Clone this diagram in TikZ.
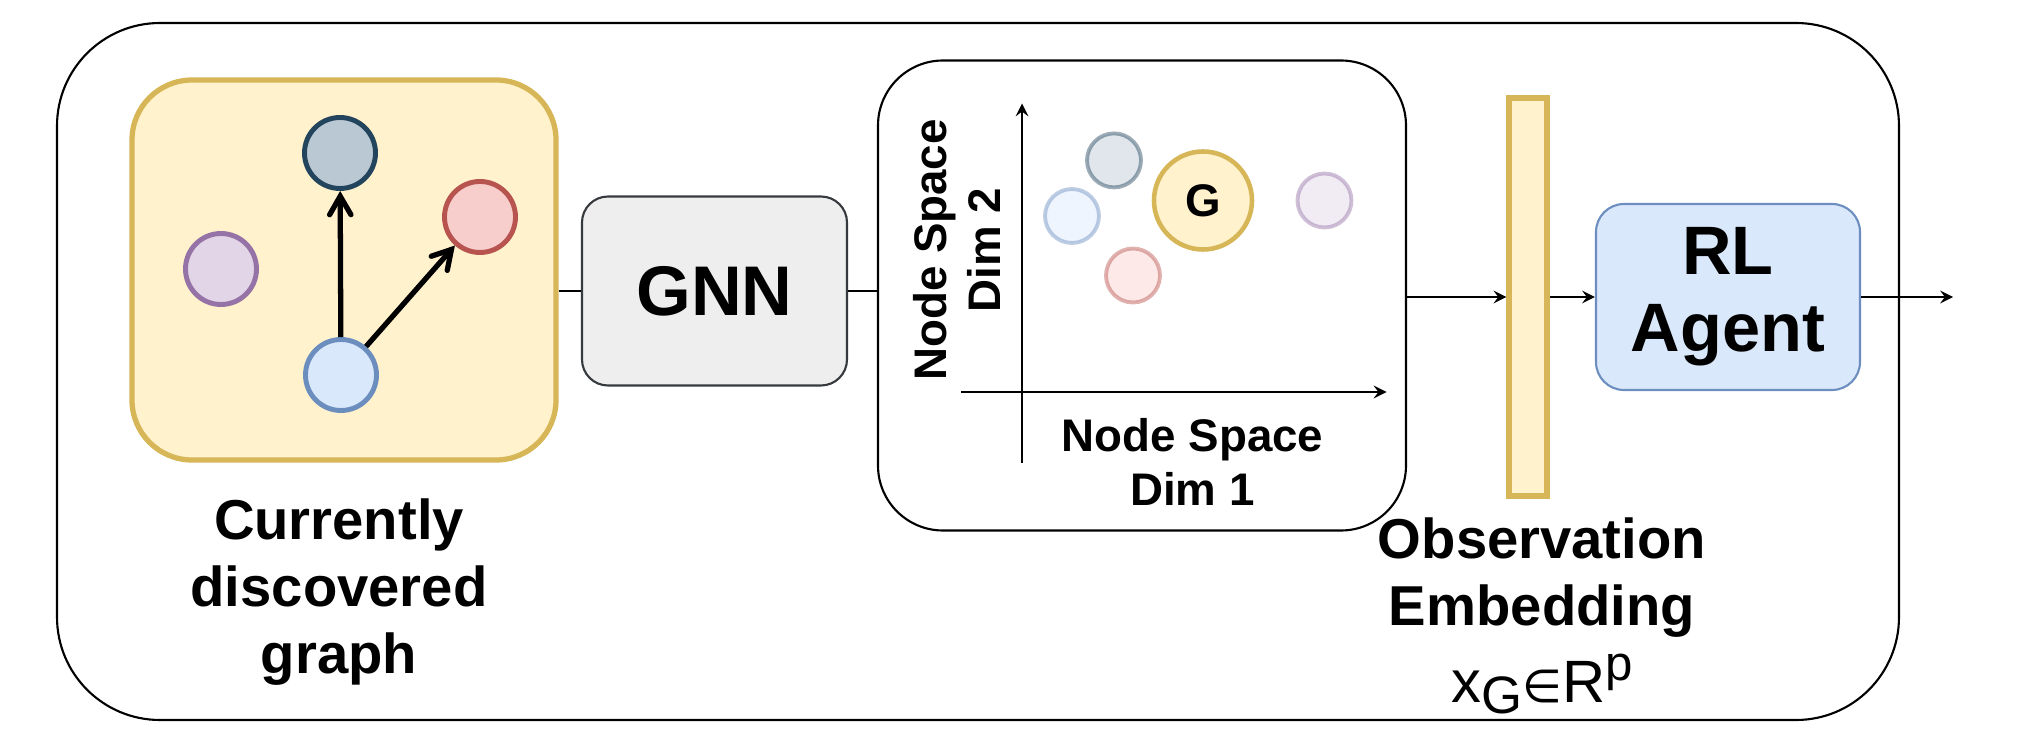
\documentclass[tikz,border=0pt]{standalone}
\usepackage{fontspec}
\setmainfont{Liberation Sans}
\newfontfamily\symfont{DejaVu Sans}
\usepackage{tikz}
\usetikzlibrary{shapes.geometric, arrows, positioning}
\definecolor{yfill}{HTML}{FFF2CC}
\definecolor{ydraw}{HTML}{D6B656}
\definecolor{bfill}{HTML}{DAE8FC}
\definecolor{bdraw}{HTML}{6C8EBF}
\definecolor{rfill}{HTML}{F8CECC}
\definecolor{rdraw}{HTML}{B85450}
\definecolor{pfill}{HTML}{E1D5E7}
\definecolor{pdraw}{HTML}{9673A6}
\definecolor{dfill}{HTML}{BAC8D3}
\definecolor{ddraw}{HTML}{23445D}
\definecolor{gfill}{HTML}{EEEEEE}
\definecolor{gdraw}{HTML}{36393D}
\tikzstyle{arrow} = [->,>=stealth]
\tikzstyle{edge} = [->,>=angle 60, line width=1.5pt]
\tikzstyle{gnode} = [circle, line width=1.4pt, minimum size=0.71cm, inner sep=0pt]
\tikzstyle{snode} = [circle, line width=1.1pt, minimum size=0.54cm, inner sep=0pt, opacity=0.45]
\tikzstyle{label} = [align=center, font=\bfseries\fontsize{16}{19}\selectfont]

\begin{document}
\begin{tikzpicture}
\useasboundingbox (0,0) rectangle (20.28,7.5);
\draw[rounded corners=1.03cm, line width=0.6pt] (0.57,0.30) rectangle (18.99,7.27);
% graph
\node[draw=ydraw, fill=yfill, line width=1.5pt, rounded corners=0.6cm, minimum width=4.24cm, minimum height=3.80cm] (graph) at (3.44,4.80) {};
\node[gnode, draw=ddraw, fill=dfill] (top) at (3.40,5.97) {};
\node[gnode, draw=rdraw, fill=rfill] (red) at (4.80,5.33) {};
\node[gnode, draw=pdraw, fill=pfill] (purple) at (2.21,4.81) {};
\node[gnode, draw=bdraw, fill=bfill] (blue) at (3.41,3.75) {};
\draw[edge] (blue) -- (top);
\draw[edge] (blue) -- (red);
\node[label] (graphlabel) at (3.39,1.58) {Currently\\discovered\\graph};
% gnn
\node[draw=gdraw, fill=gfill, line width=0.6pt, rounded corners=0.26cm, minimum width=2.65cm, minimum height=1.89cm, font=\bfseries\fontsize{20}{24}\selectfont] (gnn) at (7.145,4.59) {GNN};
\node[draw, line width=0.6pt, rounded corners=0.65cm, minimum width=5.28cm, minimum height=4.70cm] (space) at (11.42,4.545) {};
\draw[line width=0.6pt] (gnn.west -| graph.east) -- (gnn.west);
\draw[line width=0.6pt] (gnn.east) -- (gnn.east -| space.west);
% node space
\coordinate (yaxis0) at (10.22,2.87);
\coordinate (yaxis1) at (10.22,6.465);
\coordinate (xaxis0) at (9.61,3.58);
\coordinate (xaxis1) at (13.865,3.58);
\draw[arrow, line width=0.6pt] (yaxis0) -- (yaxis1);
\draw[arrow, line width=0.6pt] (xaxis0) -- (xaxis1);
\node[align=center, rotate=90, font=\bfseries\fontsize{13}{15.4}\selectfont] (dimtwo) at (9.57,5.00) {Node Space\\Dim 2};
\node[align=center, font=\bfseries\fontsize{13}{15.4}\selectfont] (dimone) at (11.925,2.88) {Node Space\\Dim 1};
\node[snode, draw=ddraw, fill=dfill] (stop) at (11.14,5.896) {};
\node[snode, draw=bdraw, fill=bfill] (sblue) at (10.72,5.34) {};
\node[snode, draw=rdraw, fill=rfill] (sred) at (11.33,4.745) {};
\node[snode, draw=pdraw, fill=pfill] (spurple) at (13.245,5.495) {};
\node[circle, draw=ydraw, fill=yfill, line width=1.3pt, minimum size=0.98cm, inner sep=0pt, font=\bfseries\fontsize{13}{15}\selectfont] (gsum) at (12.03,5.495) {G};
% embedding and agent
\node[draw=ydraw, fill=yfill, line width=1.5pt, minimum width=0.38cm, minimum height=3.98cm, inner sep=0pt] (embed) at (15.28,4.53) {};
\node[draw=bdraw, fill=bfill, line width=0.6pt, rounded corners=0.28cm, minimum width=2.64cm, minimum height=1.86cm, align=center, font=\bfseries\fontsize{19.5}{22}\selectfont] (agent) at (17.28,4.53) {RL\\Agent};
\coordinate (out) at (19.53,4.53);
\draw[arrow, line width=0.6pt] (space.east |- embed.west) -- (embed.west);
\draw[arrow, line width=0.6pt] (embed.east) -- (agent.west);
\draw[arrow, line width=0.6pt] (agent.east) -- (out);
\node[label] (embedlabel) at (15.42,1.34) {Observation\\Embedding\\[3pt]{\mdseries\fontsize{17}{19}\selectfont x\raisebox{-0.35ex}{\fontsize{15}{15}\selectfont G}{\symfont\fontsize{13}{13}\selectfont ∈}R\raisebox{0.7ex}{\fontsize{14}{14}\selectfont p}}};
\end{tikzpicture}
\end{document}
